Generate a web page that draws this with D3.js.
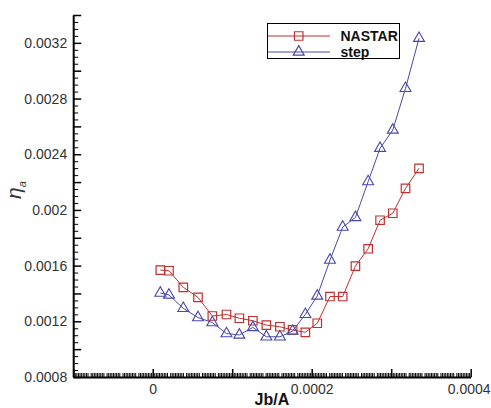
<!DOCTYPE html>
<html>
<head>
<meta charset="utf-8">
<script src="https://cdn.jsdelivr.net/npm/d3@7"></script>
<style>
  html, body { margin: 0; padding: 0; background: #fff; }
  svg { display: block; }
  text { font-family: "Liberation Sans", Arial, sans-serif; }
</style>
</head>
<body>
<svg id="chart" width="491" height="408"></svg>
<script>
// ---- data ----
const jbA = [0.0000096, 0.0000205, 0.0000385, 0.000057, 0.000075, 0.0000928, 0.000109,
             0.000126, 0.000143, 0.00016, 0.000176, 0.000192, 0.000207, 0.000223,
             0.000239, 0.000255, 0.000271, 0.000286, 0.000302, 0.000318, 0.000335];
const nastar = [0.001568, 0.001563, 0.001444, 0.001372, 0.001238, 0.001249, 0.001222,
                0.001204, 0.001173, 0.001161, 0.001138, 0.001121, 0.001186, 0.001378,
                0.001378, 0.001597, 0.001721, 0.001926, 0.001976, 0.002155, 0.002299];
const step = [0.001403, 0.001389, 0.001293, 0.001227, 0.001191, 0.001112, 0.001102,
              0.001156, 0.001089, 0.001089, 0.00113, 0.00125, 0.001382, 0.00164,
              0.001877, 0.001946, 0.002203, 0.002443, 0.002574, 0.002873, 0.003233];
const seriesNames = ["NASTAR", "step"];
const xMajorTicks = [-0.0001, 0, 0.0001, 0.0002, 0.0003, 0.0004];
const xLabelTicks = [0, 0.0002, 0.0004];
const xLabels = ["0", "0.0002", "0.0004"];
const yMajorTicks = [0.0008, 0.001, 0.0012, 0.0014, 0.0016, 0.0018, 0.002, 0.0022,
                     0.0024, 0.0026, 0.0028, 0.003, 0.0032, 0.0034];
const yLabelTicks = [0.0008, 0.0012, 0.0016, 0.002, 0.0024, 0.0028, 0.0032];
const yLabels = ["0.0008", "0.0012", "0.0016", "0.002", "0.0024", "0.0028", "0.0032"];
const xTitle = "Jb/A";

// ---- layout ----
const svg = d3.select("#chart");
const x = d3.scaleLinear().domain([-0.0001, 0.0004]).range([73.2, 470.7]);
const y = d3.scaleLinear().domain([0.0008, 0.0034]).range([377, 15]);
const red = "#c0302f", blue = "#4848aa";

const xMinor = d3.range(-50, 201).filter(i => i % 10 !== 0).map(i => i * 0.000002);
const yMinor = d3.range(16, 69).filter(i => i % 4 !== 0).map(i => i * 0.00005);

function near(a, b) { return Math.abs(a - b) < 1e-10; }

// minor ticks
svg.append("g").attr("transform", `translate(0,${y.range()[0]})`)
  .call(d3.axisBottom(x).tickValues(xMinor.filter(v => v > -0.0001 && v < 0.0004)).tickSize(-4).tickSizeOuter(0).tickFormat(""))
  .call(g => g.select(".domain").remove())
  .call(g => g.selectAll("line").attr("stroke", "#000").attr("stroke-width", 1));
svg.append("g").attr("transform", `translate(${x.range()[0]},0)`)
  .call(d3.axisLeft(y).tickValues(yMinor.filter(v => v > 0.0008 && v < 0.0034)).tickSize(-5).tickSizeOuter(0).tickFormat(""))
  .call(g => g.select(".domain").remove())
  .call(g => g.selectAll("line").attr("stroke", "#000").attr("stroke-width", 1));

// major x axis
svg.append("g").attr("transform", `translate(0,${y.range()[0]})`)
  .call(d3.axisBottom(x).tickValues(xMajorTicks).tickSize(-8).tickSizeOuter(0).tickPadding(7)
    .tickFormat(v => { const i = xLabelTicks.findIndex(t => near(t, v)); return i >= 0 ? xLabels[i] : ""; }))
  .call(g => g.select(".domain").attr("stroke", "#000").attr("stroke-width", 2))
  .call(g => g.selectAll("line").attr("stroke", "#000").attr("stroke-width", 1.5))
  .call(g => g.selectAll("text").attr("font-size", 14).attr("fill", "#333")
    .attr("font-family", "Liberation Sans, Arial, sans-serif")
    .attr("dx", d => near(d, 0.0004) ? -2 : 0));

// major y axis
svg.append("g").attr("transform", `translate(${x.range()[0]},0)`)
  .call(d3.axisLeft(y).tickValues(yMajorTicks).tickSize(-8).tickSizeOuter(0).tickPadding(6)
    .tickFormat(v => { const i = yLabelTicks.findIndex(t => near(t, v)); return i >= 0 ? yLabels[i] : ""; }))
  .call(g => g.select(".domain").attr("stroke", "#000").attr("stroke-width", 2))
  .call(g => g.selectAll("line").attr("stroke", "#000").attr("stroke-width", 1.5))
  .call(g => g.selectAll("text").attr("font-size", 14).attr("fill", "#333")
    .attr("font-family", "Liberation Sans, Arial, sans-serif"));

// titles
svg.append("text").attr("x", (x.range()[0] + x.range()[1]) / 2).attr("y", 405)
  .attr("text-anchor", "middle").attr("font-weight", "bold").attr("font-size", 16)
  .attr("fill", "#111").text(xTitle);
const yt = svg.append("text").attr("transform", "translate(21,190) rotate(-90)")
  .attr("text-anchor", "middle").attr("font-family", "Liberation Serif, Times New Roman, serif")
  .attr("font-style", "italic").attr("font-size", 21).attr("fill", "#333");
yt.append("tspan").text("η");
yt.append("tspan").attr("font-size", 11).attr("dy", 5).text("a");

// data
const nData = jbA.map((v, i) => [v, nastar[i]]);
const sData = jbA.map((v, i) => [v, step[i]]);
const line = d3.line().x(d => x(d[0])).y(d => y(d[1]));
svg.append("path").datum(nData).attr("d", line).attr("fill", "none").attr("stroke", red).attr("stroke-width", 1);
svg.append("path").datum(sData).attr("d", line).attr("fill", "none").attr("stroke", blue).attr("stroke-width", 1);

const sq = d3.symbol().type(d3.symbolSquare).size(72);
const tri = d3.symbol().type(d3.symbolTriangle).size(52);
svg.append("g").selectAll("path").data(nData).join("path")
  .attr("transform", d => `translate(${x(d[0])},${y(d[1])})`).attr("d", sq)
  .attr("fill", "none").attr("stroke", red).attr("stroke-width", 1.2);
svg.append("g").selectAll("path").data(sData).join("path")
  .attr("transform", d => `translate(${x(d[0])},${y(d[1])})`).attr("d", tri)
  .attr("fill", "none").attr("stroke", blue).attr("stroke-width", 1.1);

// legend
const lg = svg.append("g");
lg.append("rect").attr("x", 267.5).attr("y", 23.5).attr("width", 132).attr("height", 35)
  .attr("fill", "#fff").attr("stroke", "#000").attr("stroke-width", 1);
[[seriesNames[0], red, sq, 36], [seriesNames[1], blue, tri, 52]].forEach(([name, col, sym, ly]) => {
  lg.append("line").attr("x1", 268).attr("x2", 330).attr("y1", ly).attr("y2", ly)
    .attr("stroke", col).attr("stroke-width", 1);
  lg.append("path").attr("transform", `translate(298.7,${ly})`).attr("d", sym)
    .attr("fill", "none").attr("stroke", col).attr("stroke-width", 1.2);
  lg.append("text").attr("x", 340.5).attr("y", ly + 5).attr("font-size", 14)
    .attr("font-weight", "bold").attr("fill", "#111").text(name);
});
</script>
</body>
</html>
